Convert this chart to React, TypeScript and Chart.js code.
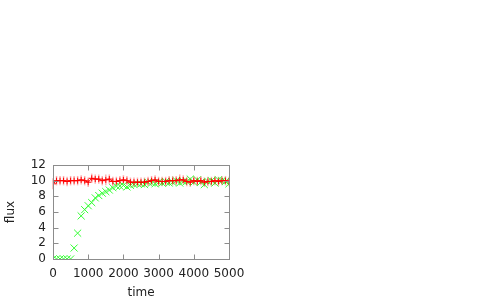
import React, { useEffect, useRef } from "react";
import { Chart, registerables } from "chart.js";

Chart.register(...registerables);

const times: number[] = [
  0, 100, 200, 300, 400, 500, 600, 700, 800, 900,
  1000, 1100, 1200, 1300, 1400, 1500, 1600, 1700, 1800, 1900,
  2000, 2100, 2200, 2300, 2400, 2500, 2600, 2700, 2800, 2900,
  3000, 3100, 3200, 3300, 3400, 3500, 3600, 3700, 3800, 3900,
  4000, 4100, 4200, 4300, 4400, 4500, 4600, 4700, 4800, 4900, 5000,
];

const redFlux: number[] = [
  9.6, 10.0, 10.0, 10.0, 9.9, 10.0, 10.0, 10.0, 10.1, 10.0,
  9.8, 10.3, 10.2, 10.2, 10.0, 10.1, 10.2, 9.9, 9.9, 10.0,
  10.1, 10.0, 9.8, 9.8, 9.8, 9.8, 9.8, 9.9, 10.0, 10.1,
  9.9, 9.9, 9.9, 10.0, 10.0, 10.0, 10.1, 10.1, 9.9, 9.8,
  10.0, 9.9, 10.0, 9.8, 9.9, 9.9, 10.0, 9.9, 10.0, 10.0, 9.9,
];

const redErr: number[] = [
  0.7, 0.6, 0.6, 0.6, 0.6, 0.6, 0.6, 0.6, 0.6, 0.6,
  0.6, 0.6, 0.6, 0.6, 0.6, 0.7, 0.6, 0.6, 0.6, 0.6,
  0.6, 0.6, 0.6, 0.6, 0.6, 0.6, 0.6, 0.6, 0.6, 0.6,
  0.6, 0.6, 0.6, 0.6, 0.6, 0.6, 0.7, 0.6, 0.6, 0.6,
  0.6, 0.6, 0.6, 0.6, 0.6, 0.6, 0.6, 0.6, 0.6, 0.6, 0.6,
];

const greenFlux: number[] = [
  0.0, 0.0, 0.0, 0.0, 0.0, 0.0, 1.4, 3.3, 5.5, 6.3,
  6.8, 7.2, 7.8, 8.1, 8.4, 8.6, 8.8, 9.1, 9.3, 9.3,
  9.4, 9.2, 9.4, 9.5, 9.6, 9.6, 9.5, 9.8, 9.7, 9.6,
  9.8, 9.7, 9.9, 9.7, 9.8, 10.0, 9.7, 9.9, 9.9, 10.2,
  9.8, 10.1, 9.8, 9.5, 9.9, 10.0, 9.7, 10.1, 10.0, 9.9, 9.6,
];

const xTickValues: number[] = [0, 1000, 2000, 3000, 4000, 5000];
const yTickValues: number[] = [0, 2, 4, 6, 8, 10, 12];

const FONT = "'DejaVu Sans', sans-serif";

const framePlugin = {
  id: "frame",
  beforeDatasetsDraw(chart: any) {
    const { ctx } = chart;
    const xs = chart.scales.x;
    const ys = chart.scales.y;
    ctx.save();
    ctx.strokeStyle = "rgba(255,80,80,0.45)";
    ctx.lineWidth = 1.5;
    for (let i = 0; i < times.length; i++) {
      const px = xs.getPixelForValue(times[i]);
      const y1 = ys.getPixelForValue(redFlux[i] - redErr[i]);
      const y2 = ys.getPixelForValue(redFlux[i] + redErr[i]);
      ctx.beginPath();
      ctx.moveTo(px, y1);
      ctx.lineTo(px, y2);
      ctx.stroke();
    }
    ctx.restore();
  },
  afterDraw(chart: any) {
    const { ctx, chartArea } = chart;
    const { left, right, top, bottom } = chartArea;
    const xs = chart.scales.x;
    const ys = chart.scales.y;
    ctx.save();
    ctx.strokeStyle = "#8c8c8c";
    ctx.lineWidth = 1;
    const L = Math.round(left) + 0.5;
    const R = Math.round(right) + 0.5;
    const T = Math.round(top) + 0.5;
    const B = Math.round(bottom) + 0.5;
    ctx.strokeRect(L, T, R - L, B - T);
    const tl = 5;
    ctx.beginPath();
    for (const v of xTickValues) {
      const px = Math.round(xs.getPixelForValue(v)) + 0.5;
      ctx.moveTo(px, B);
      ctx.lineTo(px, B - tl);
      ctx.moveTo(px, T);
      ctx.lineTo(px, T + tl);
    }
    for (const v of yTickValues) {
      const py = Math.round(ys.getPixelForValue(v)) + 0.5;
      ctx.moveTo(L, py);
      ctx.lineTo(L + tl, py);
      ctx.moveTo(R, py);
      ctx.lineTo(R - tl, py);
    }
    ctx.stroke();
    ctx.restore();
  },
};

export default function App() {
  const canvasRef = useRef<HTMLCanvasElement | null>(null);

  useEffect(() => {
    const canvas = canvasRef.current;
    if (!canvas) return;
    const chart = new Chart(canvas, {
      type: "scatter",
      data: {
        datasets: [
          {
            label: "red",
            data: times.map((t, i) => ({ x: t, y: redFlux[i] })),
            showLine: true,
            borderColor: "#ff0000",
            backgroundColor: "#ff0000",
            borderWidth: 1,
            pointStyle: "cross",
            pointRadius: 3,
            pointBorderWidth: 1,
            pointBorderColor: "#ff0000",
            order: 1,
          },
          {
            label: "green",
            data: times.map((t, i) => ({ x: t, y: greenFlux[i] })),
            showLine: false,
            borderColor: "#33ff33",
            backgroundColor: "#33ff33",
            pointStyle: "crossRot",
            pointRadius: 5,
            pointBorderWidth: 1,
            pointBorderColor: "#33ff33",
            order: 2,
          },
        ],
      },
      options: {
        responsive: false,
        animation: false,
        devicePixelRatio: 1,
        layout: { padding: { top: 165, right: 271, left: 0, bottom: 0 } },
        plugins: {
          legend: { display: false },
          tooltip: { enabled: false },
        },
        scales: {
          x: {
            type: "linear",
            min: 0,
            max: 5000,
            afterBuildTicks: (scale: any) => {
              scale.ticks = xTickValues.map((v) => ({ value: v }));
            },
            afterFit: (scale: any) => {
              scale.height = 41;
            },
            grid: { display: false, drawTicks: false },
            border: { display: false },
            ticks: {
              font: { family: FONT, size: 12 },
              color: "#222",
              padding: 8,
              maxRotation: 0,
              autoSkip: false,
              callback: (v: any) => String(v),
            },
            title: {
              display: true,
              text: "time",
              font: { family: FONT, size: 12 },
              color: "#222",
              padding: { top: 0, bottom: 0 },
            },
          },
          y: {
            type: "linear",
            min: 0,
            max: 12,
            afterBuildTicks: (scale: any) => {
              scale.ticks = yTickValues.map((v) => ({ value: v }));
            },
            afterFit: (scale: any) => {
              scale.width = 53;
            },
            grid: { display: false, drawTicks: false },
            border: { display: false },
            ticks: {
              font: { family: FONT, size: 12 },
              color: "#222",
              padding: 7,
              autoSkip: false,
              callback: (v: any) => String(v),
            },
            title: {
              display: true,
              text: "flux",
              font: { family: FONT, size: 12 },
              color: "#222",
              padding: { top: 4, bottom: 4 },
            },
          },
        },
      },
      plugins: [framePlugin],
    });
    return () => chart.destroy();
  }, []);

  return (
    <div style={{ position: "absolute", left: 0, top: 0, width: 500, height: 300, background: "#fff" }}>
      <canvas ref={canvasRef} width={500} height={300} style={{ display: "block" }} />
    </div>
  );
}
